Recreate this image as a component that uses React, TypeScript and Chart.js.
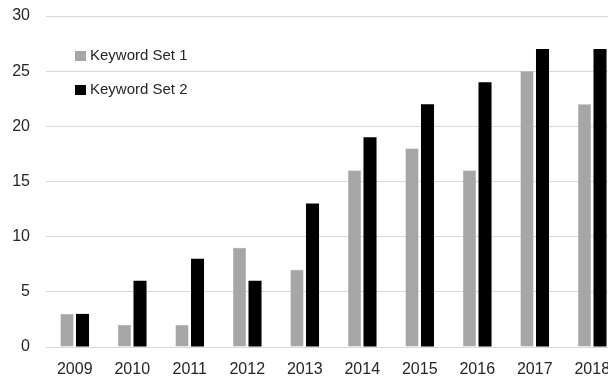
import React, { useEffect, useRef } from "react";
import { Chart, registerables } from "chart.js";

Chart.register(...registerables);

const categories = ["2009", "2010", "2011", "2012", "2013", "2014", "2015", "2016", "2017", "2018"];
const set1Values = [3, 2, 2, 9, 7, 16, 18, 16, 25, 22];
const set2Values = [3, 6, 8, 6, 13, 19, 22, 24, 27, 27];
const seriesNames = ["Keyword Set 1", "Keyword Set 2"];

const FONT = "'Liberation Sans', Arial, sans-serif";

const insideLegend = {
  id: "insideLegend",
  afterDraw(chart: any) {
    const ctx = chart.ctx;
    const area = chart.chartArea;
    ctx.save();
    ctx.font = `15px ${FONT}`;
    ctx.textBaseline = "middle";
    ctx.textAlign = "left";
    chart.data.datasets.forEach((ds: any, i: number) => {
      const y = area.top + 40 + i * 34;
      const x = area.left + 29;
      ctx.fillStyle = ds.backgroundColor;
      ctx.fillRect(x, y - 5, 11, 10);
      ctx.fillStyle = "#262626";
      ctx.fillText(ds.label, x + 15, y);
    });
    ctx.restore();
  },
};

export default function App() {
  const ref = useRef<HTMLCanvasElement>(null);
  useEffect(() => {
    if (!ref.current) return;
    const chart = new Chart(ref.current, {
      type: "bar",
      data: {
        labels: categories,
        datasets: [
          {
            label: seriesNames[0],
            data: set1Values,
            backgroundColor: "#a6a6a6",
            borderColor: "#999999",
            borderWidth: 0.5,
            categoryPercentage: 0.54,
            barPercentage: 0.84,
          },
          {
            label: seriesNames[1],
            data: set2Values,
            backgroundColor: "#000000",
            borderColor: "#000000",
            borderWidth: 0,
            categoryPercentage: 0.54,
            barPercentage: 0.84,
          },
        ],
      },
      options: {
        animation: false,
        responsive: false,
        maintainAspectRatio: false,
        layout: { padding: { top: 16, right: 0, left: 0, bottom: 0 } },
        plugins: { legend: { display: false }, tooltip: { enabled: false } },
        scales: {
          x: {
            grid: { display: false, drawTicks: false },
            border: { display: false },
            ticks: { color: "#262626", font: { family: FONT, size: 16 }, padding: 13, maxRotation: 0, autoSkip: false },
            afterFit: (s: any) => {
              s.height = 29;
              s.paddingLeft = 0;
              s.paddingRight = 0;
            },
          },
          y: {
            min: 0,
            max: 30,
            grid: { color: "#d9d9d9", drawTicks: false, lineWidth: 1 },
            border: { display: false },
            ticks: { stepSize: 5, color: "#262626", font: { family: FONT, size: 16 }, padding: 16 },
            afterFit: (s: any) => {
              s.width = 46;
              s.paddingTop = 0;
              s.paddingBottom = 0;
            },
          },
        },
      },
      plugins: [insideLegend],
    });
    return () => chart.destroy();
  }, []);
  return (
    <div style={{ position: "fixed", left: 0, top: 0, width: 608, height: 376, overflow: "hidden", background: "#fff" }}>
      <canvas ref={ref} width={621} height={376} style={{ display: "block", width: 621, height: 376 }} />
    </div>
  );
}
